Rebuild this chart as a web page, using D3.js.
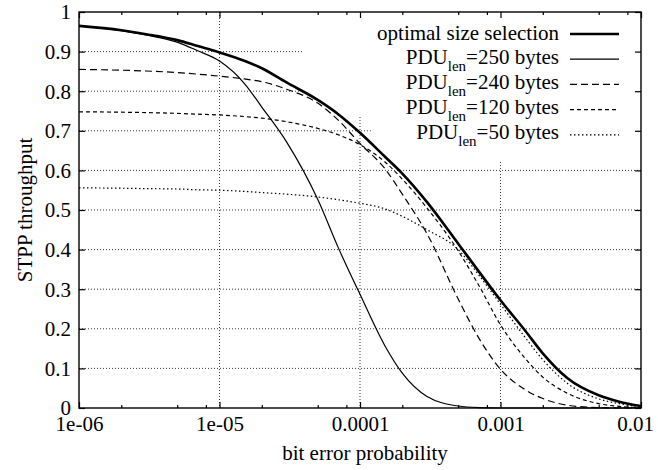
<!DOCTYPE html>
<html>
<head>
<meta charset="utf-8">
<script src="https://cdn.jsdelivr.net/npm/d3@7"></script>
<style>
  html, body { margin: 0; padding: 0; background: #fff; }
  svg { display: block; font-family: "Liberation Serif", "Times New Roman", serif; }
</style>
</head>
<body>
<svg id="chart" width="658" height="470"></svg>
<script>
// ---------------- data ----------------
const pValues = [1e-6, 2e-6, 3e-6, 5e-6, 7e-6, 1e-5, 1.5e-5, 2e-5, 3e-5, 5e-5, 7e-5, 1e-4,
                 1.5e-4, 2e-4, 3e-4, 5e-4, 7e-4, 1e-3, 1.5e-3, 2e-3, 3e-3, 5e-3, 7e-3, 1e-2];
const optimal = [.965, .954, .944, .929, .914, .898, .877, .858, .822, .778, .742, .695,
                 .635, .592, .52, .415, .345, .272, .195, .138, .075, .032, .016, .005];
const pdu250  = [.965, .953, .942, .924, .902, .876, .82, .76, .672, .527, .405, .287,
                 .158, .088, .029, .005, .001, 0, 0, 0, 0, 0, 0, 0];
const pdu240  = [.855, .853, .851, .847, .843, .838, .831, .824, .805, .77, .727, .668,
                 .605, .54, .44, .275, .177, .098, .046, .024, .007, .001, 0, 0];
const pdu120  = [.748, .747, .746, .744, .742, .74, .736, .732, .723, .706, .69, .665,
                 .622, .578, .505, .397, .31, .21, .125, .078, .037, .011, .004, .001];
const pdu50   = [.556, .555, .554, .553, .551, .55, .547, .544, .54, .533, .526, .517,
                 .503, .484, .45, .40, .336, .262, .178, .122, .062, .023, .011, .003];

const xMajorTicks = [1e-6, 1e-5, 1e-4, 1e-3, 1e-2];
const xTickLabels = ["1e-06", "1e-05", "0.0001", "0.001", "0.01"];
const xMinorMultipliers = [2, 5, 8];
const yTicks = [0, 0.1, 0.2, 0.3, 0.4, 0.5, 0.6, 0.7, 0.8, 0.9, 1];
const yTickLabels = ["0", "0.1", "0.2", "0.3", "0.4", "0.5", "0.6", "0.7", "0.8", "0.9", "1"];

const seriesNames = ["optimal size selection", "250", "240", "120", "50"];
const seriesValues = [optimal, pdu250, pdu240, pdu120, pdu50];

// ---------------- layout ----------------
const FONT = '"Liberation Serif", "Times New Roman", serif';
const FS = 21;
const L = 79, R = 641, T = 12, B = 408;
const svg = d3.select("#chart");
const x = d3.scaleLog().domain([1e-6, 1e-2]).range([L, R]);
const y = d3.scaleLinear().domain([0, 1]).range([B, T]);

const styles = [
  { w: 2.6, dash: null },
  { w: 1.2, dash: null },
  { w: 1.2, dash: "7,4" },
  { w: 1.2, dash: "4,3" },
  { w: 1.2, dash: "1.5,2.5" }
];

// clip for grid: plot area minus key region
const defs = svg.append("defs");
defs.append("clipPath").attr("id", "gridclip")
  .append("path")
  .attr("clip-rule", "evenodd")
  .attr("d", `M${L},${T}H${R}V${B}H${L}Z M303,${T}H${R}V160H373V115H303Z`);

// grid
const grid = svg.append("g").attr("clip-path", "url(#gridclip)")
  .attr("stroke", "#222").attr("stroke-width", 0.9).attr("stroke-dasharray", "1,2");
grid.selectAll("line.gy").data(yTicks.slice(1, -1)).join("line")
  .attr("x1", L).attr("x2", R).attr("y1", d => y(d)).attr("y2", d => y(d));
grid.selectAll("line.gx").data(xMajorTicks.slice(1, -1)).join("line")
  .attr("x1", d => x(d)).attr("x2", d => x(d)).attr("y1", T).attr("y2", B);

// axes (ticks inward, mirrored)
const minorTicks = [];
for (let i = 0; i < xMajorTicks.length - 1; i++)
  xMinorMultipliers.forEach(m => minorTicks.push(xMajorTicks[i] * m));

function styleAxis(g) {
  g.attr("font-family", FONT).attr("font-size", FS);
  g.select(".domain").remove();
  g.selectAll(".tick line").attr("stroke", "#000").attr("stroke-width", 1.2);
  g.selectAll("text").attr("font-size", FS).attr("fill", "#000").attr("font-family", FONT);
}

const xBottom = svg.append("g").attr("transform", `translate(0,${B})`)
  .call(d3.axisBottom(x).tickValues(xMajorTicks).tickSize(-6)
    .tickFormat((d, i) => xTickLabels[i]));
styleAxis(xBottom);
xBottom.selectAll("text").attr("dy", null).attr("y", 23)
  .attr("x", (d, i) => i === xMajorTicks.length - 1 ? -6 : 0);

svg.append("g").attr("transform", `translate(0,${B})`)
  .call(d3.axisBottom(x).tickValues(minorTicks).tickSize(-3).tickFormat(""))
  .call(styleAxis);
svg.append("g").attr("transform", `translate(0,${T})`)
  .call(d3.axisTop(x).tickValues(xMajorTicks).tickSize(-6).tickFormat(""))
  .call(styleAxis);
svg.append("g").attr("transform", `translate(0,${T})`)
  .call(d3.axisTop(x).tickValues(minorTicks).tickSize(-3).tickFormat(""))
  .call(styleAxis);

const yLeft = svg.append("g").attr("transform", `translate(${L},0)`)
  .call(d3.axisLeft(y).tickValues(yTicks).tickSize(-6)
    .tickFormat((d, i) => yTickLabels[i]));
styleAxis(yLeft);
yLeft.selectAll("text").attr("x", -8).attr("dy", "0.33em");

svg.append("g").attr("transform", `translate(${R},0)`)
  .call(d3.axisRight(y).tickValues(yTicks).tickSize(-6).tickFormat(""))
  .call(styleAxis);

// frame
svg.append("rect").attr("x", L).attr("y", T).attr("width", R - L).attr("height", B - T)
  .attr("fill", "none").attr("stroke", "#000").attr("stroke-width", 1.4);

// curves
const line = d3.line()
  .x((d, i) => x(pValues[i]))
  .y(d => y(d))
  .curve(d3.curveMonotoneX);

svg.append("g").selectAll("path.curve")
  .data(seriesValues).join("path")
  .attr("class", "curve")
  .attr("d", d => line(d))
  .attr("fill", "none").attr("stroke", "#000")
  .attr("stroke-width", (d, i) => styles[i].w)
  .attr("stroke-dasharray", (d, i) => styles[i].dash)
  .attr("stroke-linejoin", "round");

// legend
const legend = svg.append("g").attr("font-family", FONT);
const rowY0 = 34, rowStep = 25.2, textRight = 559, sx1 = 570, sx2 = 619;
seriesNames.forEach((name, i) => {
  const cy = rowY0 + i * rowStep;
  legend.append("line").attr("x1", sx1).attr("x2", sx2).attr("y1", cy).attr("y2", cy)
    .attr("stroke", "#000").attr("stroke-width", styles[i].w)
    .attr("stroke-dasharray", styles[i].dash);
  const t = legend.append("text").attr("x", textRight).attr("y", cy + (i === 0 ? 5.5 : 4.5))
    .attr("text-anchor", "end").attr("font-size", FS).attr("fill", "#000");
  if (i === 0) {
    t.text(name);
  } else {
    t.append("tspan").text("PDU");
    t.append("tspan").attr("font-size", 15).attr("dy", 7).text("len");
    t.append("tspan").attr("dy", -7).text("=" + name + " bytes");
  }
});

// axis titles
svg.append("text").attr("x", 365).attr("y", 460).attr("text-anchor", "middle")
  .attr("font-family", FONT).attr("font-size", FS).text("bit error probability");
svg.append("text").attr("transform", "translate(31.5,210) rotate(-90)")
  .attr("text-anchor", "middle").attr("font-family", FONT).attr("font-size", FS)
  .text("STPP throughput");
</script>
</body>
</html>
